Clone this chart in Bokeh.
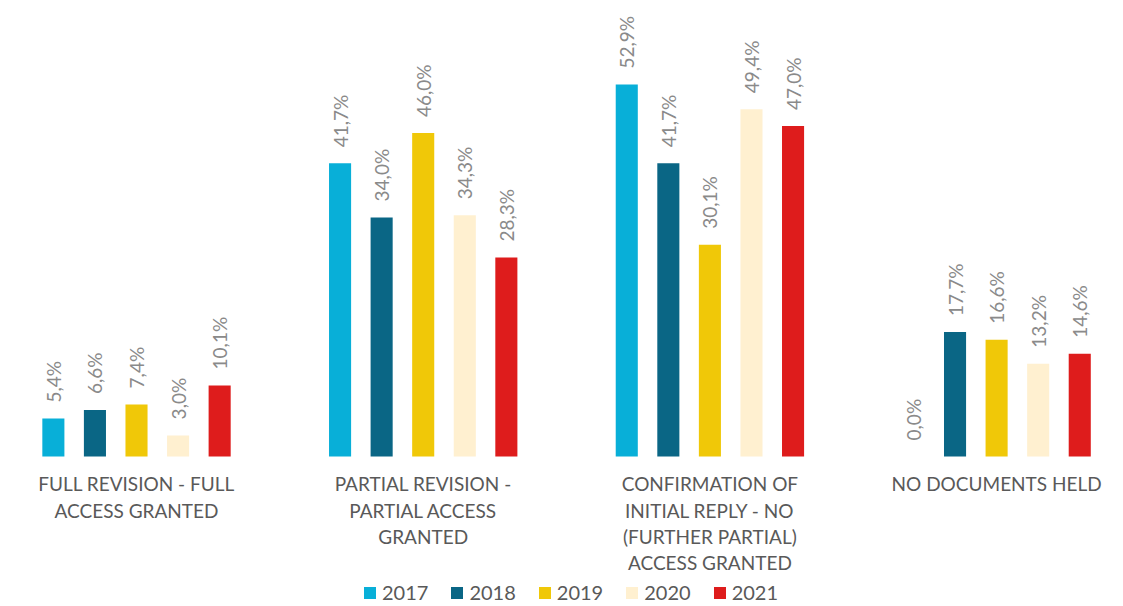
from bokeh.plotting import figure
from bokeh.models import ColumnDataSource, Range1d, Legend, LegendItem
from bokeh.core.properties import value
from bokeh.embed import file_html
from bokeh.resources import INLINE

categories = [
    "FULL REVISION - FULL\nACCESS GRANTED",
    "PARTIAL REVISION -\nPARTIAL ACCESS\nGRANTED",
    "CONFIRMATION OF\nINITIAL REPLY - NO\n(FURTHER PARTIAL)\nACCESS GRANTED",
    "NO DOCUMENTS HELD",
]
years = ["2017", "2018", "2019", "2020", "2021"]
colors = ["#08AFD8", "#0A6685", "#F0C808", "#FFF0D0", "#DE1C1C"]
values = {
    "2017": [5.4, 41.7, 52.9, 0.0],
    "2018": [6.6, 34.0, 41.7, 17.7],
    "2019": [7.4, 46.0, 30.1, 16.6],
    "2020": [3.0, 34.3, 49.4, 13.2],
    "2021": [10.1, 28.3, 47.0, 14.6],
}

FONT = "Lato"
W, H = 1115, 606
p = figure(width=W, height=H, output_backend="svg", toolbar_location=None,
           x_range=Range1d(-0.4744, 3.4147), y_range=Range1d(-21.34, 64.86),
           min_border=0)
p.xaxis.visible = False
p.yaxis.visible = False
p.xgrid.visible = False
p.ygrid.visible = False
p.outline_line_color = None
p.background_fill_color = "white"

step = 0.145
bw = 0.077
items = []
for j, yr in enumerate(years):
    xs = [i + (j - 2) * step for i in range(len(categories))]
    vals = values[yr]
    labels = [("%.1f" % v).replace(".", ",") + "%" for v in vals]
    src = ColumnDataSource(dict(x=xs, top=vals, label=labels))
    r = p.vbar(x="x", top="top", bottom=0, width=bw, source=src,
               fill_color=colors[j], line_color=None)
    p.text(x="x", y="top", text="label", source=src, angle=1.5708,
           text_align="left", text_baseline="middle", y_offset=-16,
           text_font=value(FONT), text_font_size="19px", text_color="#8A8A8A")
    items.append(LegendItem(label=yr, renderers=[r]))

csrc = ColumnDataSource(dict(x=list(range(len(categories))), y=[0] * len(categories), t=categories))
p.text(x="x", y="y", text="t", source=csrc, text_align="center", text_baseline="top",
       y_offset=16, text_font=value(FONT), text_font_size="19px", text_color="#595959",
       text_line_height=1.14)

legend = Legend(items=items, orientation="horizontal", location=(362, 2),
                padding=0, margin=0, spacing=21, glyph_width=15, glyph_height=15,
                label_standoff=5, label_text_font=FONT, label_text_font_size="20px",
                label_text_color="#595959", border_line_alpha=0,
                background_fill_alpha=0)
p.add_layout(legend, "center")

open("out.html", "w").write(file_html(p, INLINE))
